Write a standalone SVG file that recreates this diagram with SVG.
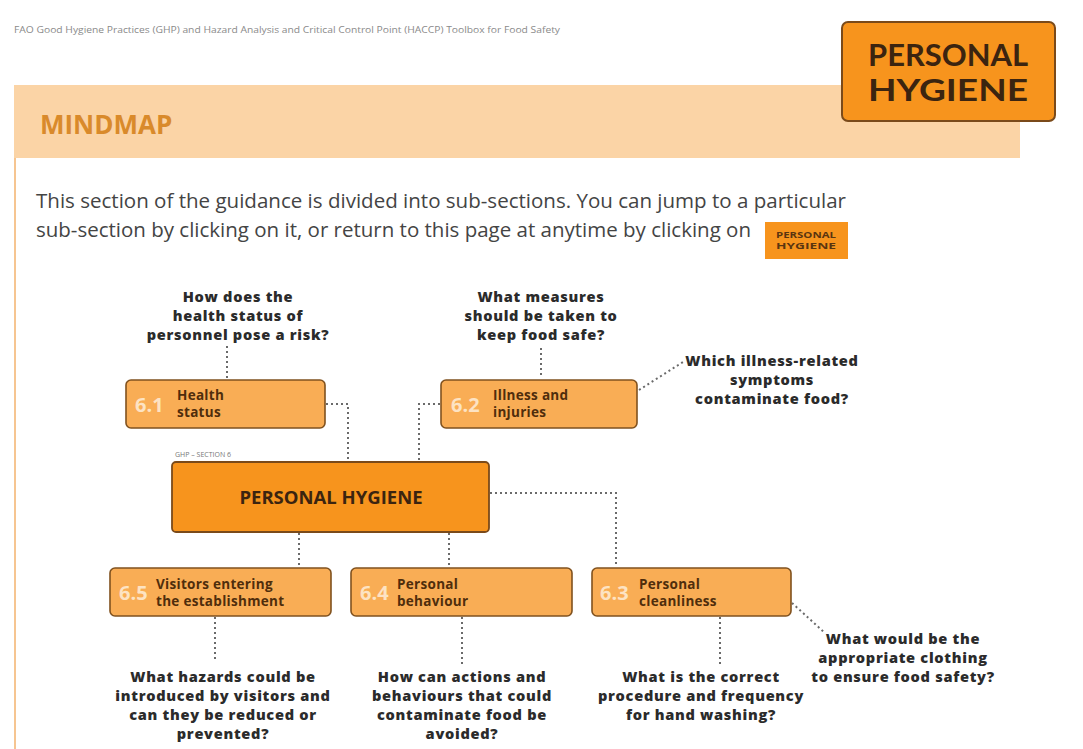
<svg xmlns="http://www.w3.org/2000/svg" width="1083" height="749" viewBox="0 0 1083 749">
<style>
  .q { font-family: "Open Sans", "Liberation Sans", sans-serif; font-weight: 800; font-size: 14.6px; letter-spacing: 0.7px; fill: #2b2b2b; text-anchor: middle; }
  .node { fill: #f9ad55; stroke: #80521f; stroke-width: 1.6; }
  .num { font-family: "Open Sans", "Liberation Sans", sans-serif; font-weight: 700; font-size: 20px; fill: #fde3c3; }
  .lbl { font-family: "Open Sans", "Liberation Sans", sans-serif; font-weight: 700; font-size: 13.5px; letter-spacing: 0.3px; fill: #4f2d0c; }
  .conn { fill: none; stroke: #6a6a6a; stroke-width: 2; stroke-dasharray: 2 3; }
  .title { font-family: Lato, "Open Sans", sans-serif; font-weight: 700; font-size: 30px; fill: #3b2410; text-anchor: middle; }
</style>
<rect width="1083" height="749" fill="#ffffff"/>
<!-- header -->
<text x="14" y="33" font-family="Open Sans, Liberation Sans, sans-serif" font-size="9" fill="#8a8a8a" textLength="546" lengthAdjust="spacingAndGlyphs">FAO Good Hygiene Practices (GHP) and Hazard Analysis and Critical Control Point (HACCP) Toolbox for Food Safety</text>
<rect x="14" y="85" width="2" height="664" fill="#f6c591"/>
<rect x="14" y="85" width="1006" height="73" fill="#fbd4a6"/>
<text x="40" y="134" font-family="Open Sans, Liberation Sans, sans-serif" font-weight="700" font-size="26" fill="#d98a2b">MINDMAP</text>
<g id="title-box">
  <rect x="842" y="22" width="213" height="99" rx="6" fill="#f7941d" stroke="#7a4a1a" stroke-width="2"/>
  <text class="title" x="948" y="66" textLength="160" lengthAdjust="spacingAndGlyphs">PERSONAL</text>
  <text class="title" x="948" y="101" textLength="160" lengthAdjust="spacingAndGlyphs">HYGIENE</text>
</g>
<text font-family="Open Sans, Liberation Sans, sans-serif" font-size="19.5" fill="#444">
  <tspan x="36" y="208" textLength="810" lengthAdjust="spacingAndGlyphs">This section of the guidance is divided into sub-sections. You can jump to a particular</tspan>
  <tspan x="36" y="237" textLength="715" lengthAdjust="spacingAndGlyphs">sub-section by clicking on it, or return to this page at anytime by clicking on</tspan>
</text>
<g id="button">
  <rect x="765" y="222" width="83" height="37" fill="#f7941d"/>
  <text x="806" y="238" text-anchor="middle" font-family="Open Sans, Liberation Sans, sans-serif" font-weight="700" font-size="8.5" fill="#5a3510" textLength="60" lengthAdjust="spacingAndGlyphs">PERSONAL</text>
  <text x="806" y="248.5" text-anchor="middle" font-family="Open Sans, Liberation Sans, sans-serif" font-weight="700" font-size="8.5" fill="#5a3510" textLength="60" lengthAdjust="spacingAndGlyphs">HYGIENE</text>
</g>
<g id="connectors">
  <path class="conn" d="M227 346 V378"/>
  <path class="conn" d="M541 348 V378"/>
  <path class="conn" d="M326 404 H348 V462"/>
  <path class="conn" d="M440 404 H419 V462"/>
  <path class="conn" d="M639 390 L683 362"/>
  <path class="conn" d="M490 493 H616 V567"/>
  <path class="conn" d="M299 533 V567"/>
  <path class="conn" d="M449 533 V567"/>
  <path class="conn" d="M215 617 V662"/>
  <path class="conn" d="M462 617 V667"/>
  <path class="conn" d="M720 617 V667"/>
  <path class="conn" d="M792 603 L825 633"/>
</g>
<g id="q1"><text class="q"><tspan x="238" y="302">How does the</tspan><tspan x="238" y="321">health status of</tspan><tspan x="238" y="340">personnel pose a risk?</tspan></text></g>
<g id="q2"><text class="q"><tspan x="541" y="302">What measures</tspan><tspan x="541" y="321">should be taken to</tspan><tspan x="541" y="340">keep food safe?</tspan></text></g>
<g id="q3"><text class="q"><tspan x="772" y="366">Which illness-related</tspan><tspan x="772" y="385">symptoms</tspan><tspan x="772" y="404">contaminate food?</tspan></text></g>
<g id="n61">
  <rect class="node" x="126" y="380" width="199" height="48" rx="5"/>
  <text class="num" x="135" y="412">6.1</text>
  <text class="lbl" x="177" y="400">Health</text>
  <text class="lbl" x="177" y="417">status</text>
</g>
<g id="n62">
  <rect class="node" x="441" y="380" width="196" height="48" rx="5"/>
  <text class="num" x="451" y="412">6.2</text>
  <text class="lbl" x="493" y="400">Illness and</text>
  <text class="lbl" x="493" y="417">injuries</text>
</g>
<g id="main">
  <text x="175" y="457" font-family="Open Sans, Liberation Sans, sans-serif" font-size="7" fill="#777">GHP – SECTION 6</text>
  <rect x="172" y="462" width="317" height="70" rx="4" fill="#f7941d" stroke="#7a4a1a" stroke-width="1.8"/>
  <text x="331" y="504" text-anchor="middle" font-family="Open Sans, Liberation Sans, sans-serif" font-weight="700" font-size="18.5" fill="#3b2410">PERSONAL HYGIENE</text>
</g>
<g id="n65">
  <rect class="node" x="110" y="568" width="221" height="48" rx="5"/>
  <text class="num" x="119" y="600">6.5</text>
  <text class="lbl" x="156" y="589">Visitors entering</text>
  <text class="lbl" x="156" y="606">the establishment</text>
</g>
<g id="n64">
  <rect class="node" x="351" y="568" width="221" height="48" rx="5"/>
  <text class="num" x="360" y="600">6.4</text>
  <text class="lbl" x="397" y="589">Personal</text>
  <text class="lbl" x="397" y="606">behaviour</text>
</g>
<g id="n63">
  <rect class="node" x="592" y="568" width="199" height="48" rx="5"/>
  <text class="num" x="600" y="600">6.3</text>
  <text class="lbl" x="639" y="589">Personal</text>
  <text class="lbl" x="639" y="606">cleanliness</text>
</g>
<g id="q65"><text class="q"><tspan x="223" y="682">What hazards could be</tspan><tspan x="223" y="701">introduced by visitors and</tspan><tspan x="223" y="720">can they be reduced or</tspan><tspan x="223" y="739">prevented?</tspan></text></g>
<g id="q64"><text class="q"><tspan x="462" y="682">How can actions and</tspan><tspan x="462" y="701">behaviours that could</tspan><tspan x="462" y="720">contaminate food be</tspan><tspan x="462" y="739">avoided?</tspan></text></g>
<g id="q63a"><text class="q"><tspan x="701" y="682">What is the correct</tspan><tspan x="701" y="701">procedure and frequency</tspan><tspan x="701" y="720">for hand washing?</tspan></text></g>
<g id="q63b"><text class="q"><tspan x="903" y="644">What would be the</tspan><tspan x="903" y="663">appropriate clothing</tspan><tspan x="903" y="682">to ensure food safety?</tspan></text></g>
</svg>
